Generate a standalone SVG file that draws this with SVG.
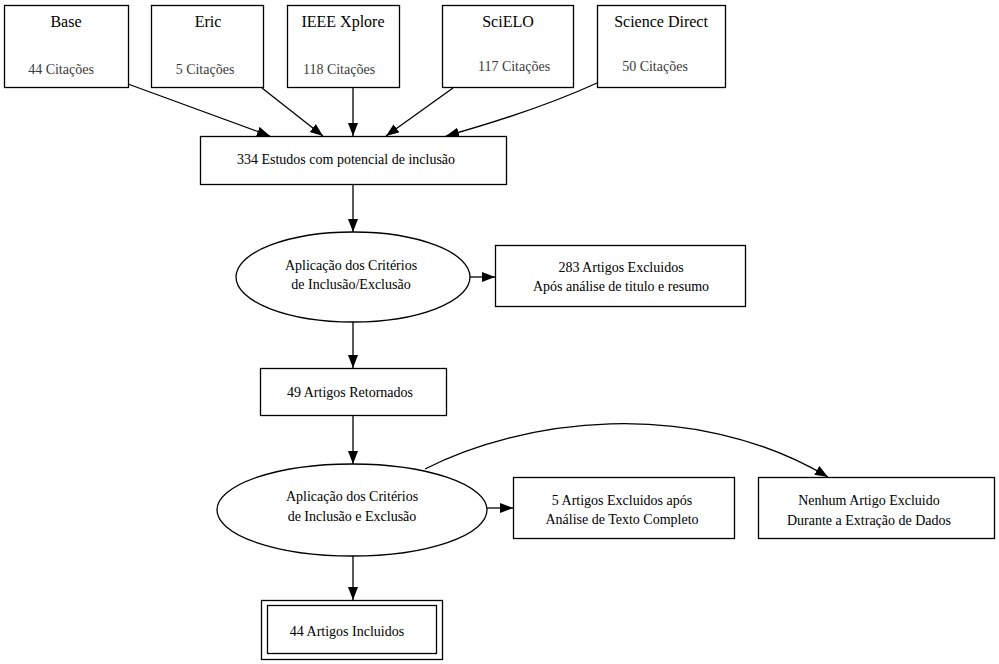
<svg xmlns="http://www.w3.org/2000/svg" width="999" height="664" viewBox="0 0 999 664" font-family="Liberation Serif, DejaVu Serif, serif">
<style>
.n{fill:#fff;stroke:#000;stroke-width:1.3}
.t{font-size:14px;fill:#000;text-anchor:middle}
.h{font-size:16px;fill:#000;text-anchor:middle}
.c{fill:#3a3a3a}
.e{fill:none;stroke:#000;stroke-width:1.3}
</style>
<defs>
<marker id="a" markerUnits="userSpaceOnUse" markerWidth="14" markerHeight="12" refX="13" refY="5.5" orient="auto">
<path d="M0,0.5 L13,5.5 L0,10.5 Z" fill="#000"/>
</marker>
</defs>
<rect width="999" height="664" fill="#fff"/>
<g id="connectors">
<path class="e" marker-end="url(#a)" d="M128,84 L270,136"/>
<path class="e" marker-end="url(#a)" d="M262,88 L323,136"/>
<path class="e" marker-end="url(#a)" d="M353,88 L353,136"/>
<path class="e" marker-end="url(#a)" d="M453,88 L386,136"/>
<path class="e" marker-end="url(#a)" d="M597,83 C560,100 510,118 446,136"/>
<path class="e" marker-end="url(#a)" d="M353,184 L353,232"/>
<path class="e" marker-end="url(#a)" d="M470,277 L495,277"/>
<path class="e" marker-end="url(#a)" d="M353,322 L353,368"/>
<path class="e" marker-end="url(#a)" d="M353,415 L353,464"/>
<path class="e" marker-end="url(#a)" d="M487,508 L513,508"/>
<path class="e" marker-end="url(#a)" d="M425,469 C520,420 690,395 828,477"/>
<path class="e" marker-end="url(#a)" d="M353,556 L353,600"/>
</g>
<g id="base"><rect class="n" x="4.5" y="5.5" width="124" height="82"/><text class="h" x="66" y="27">Base</text><text class="t c" x="61" y="74">44 Citações</text></g>
<g id="eric"><rect class="n" x="151.5" y="5.5" width="112" height="82"/><text class="h" x="208" y="27">Eric</text><text class="t c" x="205" y="74">5 Citações</text></g>
<g id="ieee"><rect class="n" x="287.5" y="5.5" width="112" height="82"/><text class="h" x="343" y="27">IEEE Xplore</text><text class="t c" x="339" y="74">118 Citações</text></g>
<g id="scielo"><rect class="n" x="442.5" y="5.5" width="131" height="82"/><text class="h" x="508" y="27">SciELO</text><text class="t c" x="514" y="71">117 Citações</text></g>
<g id="sciencedirect"><rect class="n" x="597.5" y="5.5" width="128" height="82"/><text class="h" x="661" y="27">Science Direct</text><text class="t c" x="655" y="71">50 Citações</text></g>
<g id="estudos"><rect class="n" x="200.5" y="136.5" width="306" height="48"/><text class="t" x="346" y="164">334 Estudos com potencial de inclusão</text></g>
<g id="criterios1"><ellipse class="n" cx="353" cy="277" rx="117" ry="45"/><text class="t" x="351" y="270">Aplicação dos Critérios</text><text class="t" x="351" y="289">de Inclusão/Exclusão</text></g>
<g id="excluidos283"><rect class="n" x="495.5" y="245.5" width="250" height="61"/><text class="t" x="621" y="272">283 Artigos Excluidos</text><text class="t" x="621" y="291">Após análise de titulo e resumo</text></g>
<g id="retornados"><rect class="n" x="260.5" y="368.5" width="186" height="47"/><text class="t" x="350" y="397">49 Artigos Retornados</text></g>
<g id="criterios2"><ellipse class="n" cx="352" cy="510" rx="135" ry="46"/><text class="t" x="352" y="501">Aplicação dos Critérios</text><text class="t" x="352" y="521">de Inclusão e Exclusão</text></g>
<g id="excluidos5"><rect class="n" x="513.5" y="477.5" width="221" height="61"/><text class="t" x="622" y="505">5 Artigos Excluidos após</text><text class="t" x="622" y="524">Análise de Texto Completo</text></g>
<g id="nenhum"><rect class="n" x="758.5" y="477.5" width="236" height="61"/><text class="t" x="869" y="505">Nenhum Artigo Excluido</text><text class="t" x="869" y="525">Durante a Extração de Dados</text></g>
<g id="incluidos"><rect class="n" x="261.5" y="600.5" width="181" height="59"/><rect class="n" x="267.5" y="605.5" width="169" height="48"/><text class="t" x="347" y="636">44 Artigos Incluidos</text></g>
</svg>
